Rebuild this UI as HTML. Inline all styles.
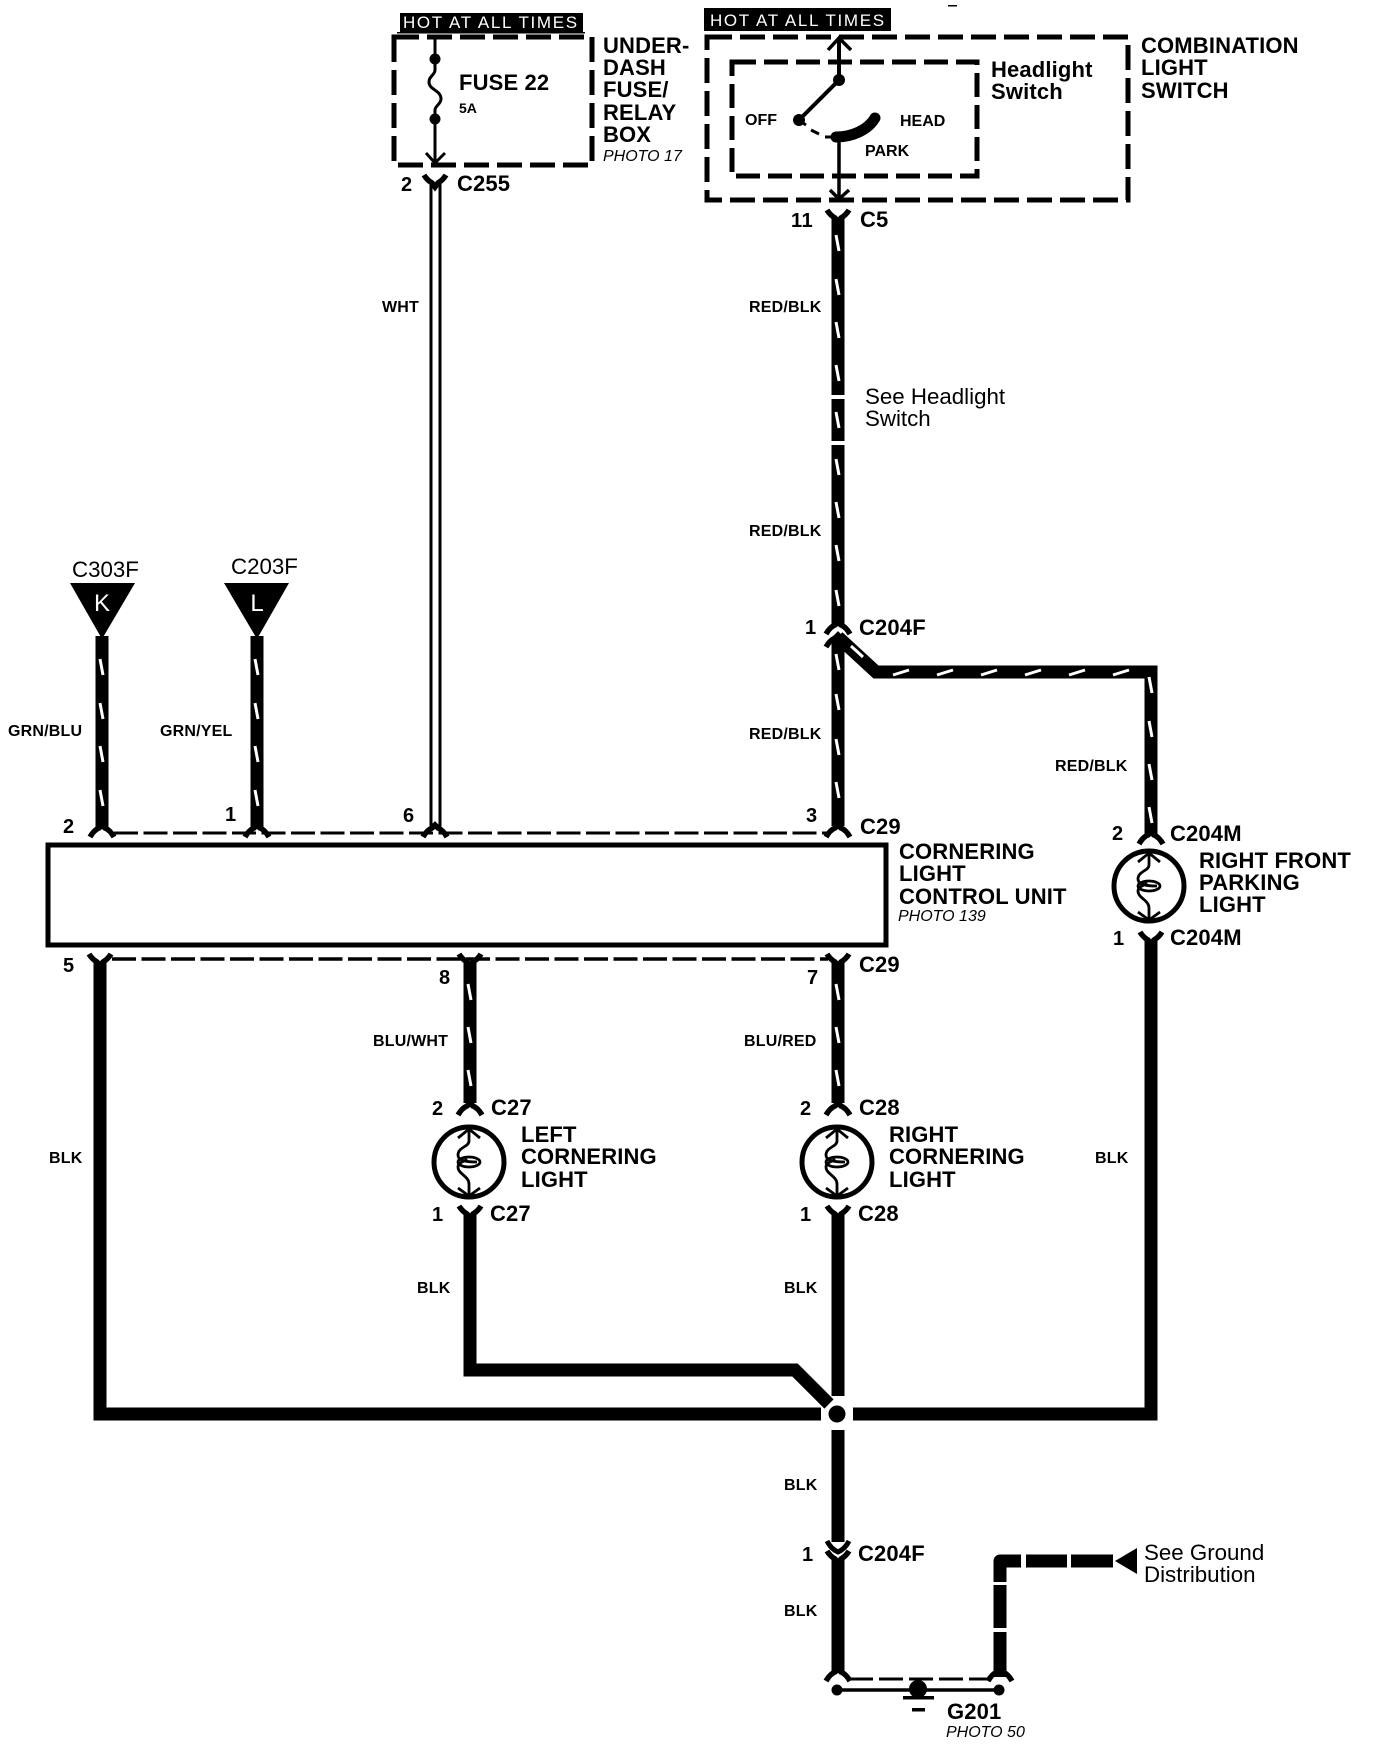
<!DOCTYPE html>
<html><head><meta charset="utf-8"><style>
html,body{margin:0;padding:0;background:#fff}
svg{display:block}
text{font-family:"Liberation Sans",sans-serif;fill:#000}
.b{font-weight:bold;font-size:22px;letter-spacing:.15px}
.n{font-weight:bold;font-size:20px;letter-spacing:.5px}
.w{font-weight:bold;font-size:16px;letter-spacing:.2px}
.p{font-style:italic;font-size:16px}
.r{font-size:22.3px}
.h{fill:#fff;font-size:17px;letter-spacing:1.65px}
.l{fill:none;stroke:#000}
.s{fill:none;stroke:#fff;stroke-width:3}
</style></head><body>
<svg width="1376" height="1744" viewBox="0 0 1376 1744" xmlns="http://www.w3.org/2000/svg">
<defs>
<path id="y" d="M-11,-8 Q-8,-3 -3,0 L0,4 L3,0 Q8,-3 11,-8" fill="none" stroke="#000" stroke-width="5.5"/>
<path id="a" d="M-12,6 Q-8,-1 -3,-3 L0,-6 L3,-3 Q8,-1 12,6" fill="none" stroke="#000" stroke-width="5.5"/>
<g id="bulb">
<circle r="35" fill="#fff" stroke="#000" stroke-width="5"/>
<path d="M-11,-24 L0,-33 L11,-24 M-11,26 L0,34 L11,26 M0,-33 V-21 C0,-15 -11,-15 -11,-7 C-11,-2 -5,0 8,0 M0,34 V22 C0,14 -11,12 -11,5 C-11,0 -5,0 -2,-3" fill="none" stroke="#000" stroke-width="2.8"/>
<ellipse cx="0" cy="0" rx="11" ry="5" fill="none" stroke="#000" stroke-width="2.8"/>
</g>
</defs>

<rect x="948" y="5" width="9" height="1.5" fill="#000"/>

<rect x="400" y="13" width="183" height="19" fill="#000"/>
<rect x="397" y="32" width="188" height="1.5" fill="#000"/>
<text class="h" x="403" y="28">HOT AT ALL TIMES</text>
<rect x="704" y="8" width="187" height="23" fill="#000"/>
<text class="h" x="710" y="26">HOT AT ALL TIMES</text>

<rect x="394" y="37" width="198" height="128" class="l" stroke-width="5" stroke-dasharray="25 8"/>
<rect x="707" y="37" width="421" height="163" class="l" stroke-width="5" stroke-dasharray="25 8"/>
<rect x="732" y="62" width="245" height="114" class="l" stroke-width="5" stroke-dasharray="24 8"/>

<path d="M435,37 V70 C435,75 429,76 429,82 C429,90 441,90 441,99 C441,104 435,106 435,110 V162" class="l" stroke-width="3"/>
<circle cx="435" cy="59" r="5.5"/><circle cx="435" cy="119" r="5.5"/>
<path d="M426,153 L435,163 L445,153" class="l" stroke-width="3"/>
<use href="#y" x="435" y="183"/>
<line x1="431" y1="184" x2="431" y2="828" class="l" stroke-width="3"/>
<line x1="440" y1="184" x2="440" y2="828" class="l" stroke-width="3"/>

<path d="M839,38 V80 L799,120" class="l" stroke-width="4"/>
<circle cx="839" cy="80" r="6"/><circle cx="799" cy="120" r="6"/>
<path d="M828,50 L839,38 L851,50 M830,190 L839,199 L849,190" class="l" stroke-width="3.5"/>
<path d="M803,123 L806,125 M811,130 L819,134 M825,137 L834,137" class="l" stroke-width="3"/>
<path d="M836,137 C852,137 868,130 875,118" class="l" stroke-width="11" stroke-linecap="round"/>
<line x1="839" y1="137" x2="839" y2="198" class="l" stroke-width="3.5"/>

<use href="#y" x="838" y="218"/>
<path d="M838,218 V395 M838,399 V441 M838,445 V624" class="l" stroke-width="13"/>
<path class="s" d="M836,235l3,16M836,279l3,16M836,322l3,16M836,365l3,16M836,412l3,16M836,459l3,16M836,502l3,16M836,545l3,16M836,590l3,16"/>
<use href="#a" x="838" y="628"/>
<use href="#a" x="838" y="641"/>
<path d="M838,640 V826" class="l" stroke-width="13"/>
<path d="M838,637 L876,672 H1151 V826" class="l" stroke-width="13" stroke-linejoin="miter"/>
<path class="s" d="M836,654l3,16M836,694l3,16M836,739l3,16M836,782l3,16M851,646l12,11"/>
<path class="s" d="M893,675l16,-5M937,675l16,-5M981,675l16,-5M1025,675l16,-5M1069,675l16,-5M1113,675l16,-5M1149,677l3,16M1149,721l3,16M1149,764l3,16M1149,807l3,16"/>

<polygon points="70,583 135,583 102,639"/>
<polygon points="224,583 289,583 257,639"/>
<text x="102" y="611" font-size="24" text-anchor="middle" style="fill:#fff">K</text>
<text x="257" y="611" font-size="24" text-anchor="middle" style="fill:#fff">L</text>
<path d="M102,636 V828 M257,636 V828" class="l" stroke-width="13"/>
<path class="s" d="M100,659l3,16M100,703l3,16M100,746l3,16M100,790l3,16M255,659l3,16M255,703l3,16M255,746l3,16M255,790l3,16"/>
<use href="#a" x="102" y="831"/><use href="#a" x="257" y="831"/><use href="#a" x="435" y="831"/><use href="#a" x="838" y="831"/>
<line x1="114" y1="833" x2="828" y2="833" class="l" stroke-width="3" stroke-dasharray="24 5.5"/>

<rect x="48" y="845" width="838" height="100" fill="#fff" stroke="#000" stroke-width="5"/>

<line x1="112" y1="959" x2="828" y2="959" class="l" stroke-width="3.5" stroke-dasharray="24 5.5"/>
<use href="#y" x="100" y="962"/><use href="#y" x="470" y="962"/><use href="#y" x="838" y="962"/>
<path d="M470,962 V1103 M838,962 V1103" class="l" stroke-width="13"/>
<path class="s" d="M468,984l3,16M468,1027l3,16M468,1070l3,16M836,984l3,16M836,1027l3,16M836,1070l3,16"/>
<use href="#a" x="470" y="1109"/><use href="#a" x="838" y="1109"/>
<use href="#a" x="1151" y="838"/>
<path d="M1151,826 V834" class="l" stroke-width="13"/>

<use href="#bulb" x="469" y="1162"/>
<use href="#bulb" x="837" y="1162"/>
<use href="#bulb" x="1149" y="886"/>
<use href="#y" x="470" y="1214"/><use href="#y" x="838" y="1214"/><use href="#y" x="1151" y="940"/>

<path d="M1151,940 V1414 H853" class="l" stroke-width="13"/>
<path d="M100,962 V1414 H821" class="l" stroke-width="13"/>
<path d="M470,1214 V1370 H795 L829,1404" class="l" stroke-width="13"/>
<path d="M838,1214 V1396" class="l" stroke-width="13"/>
<circle cx="837" cy="1414" r="8.5"/>
<path d="M838,1430 V1542" class="l" stroke-width="13"/>
<path d="M827,1541 Q831,1549 838,1552 Q845,1549 849,1541" class="l" stroke-width="5"/>
<use href="#y" x="838" y="1559"/>
<path d="M838,1560 V1672" class="l" stroke-width="13"/>
<use href="#a" x="838" y="1675"/><use href="#a" x="1000" y="1675"/>
<line x1="849" y1="1679" x2="990" y2="1679" class="l" stroke-width="3" stroke-dasharray="24 6"/>

<line x1="837" y1="1690" x2="999" y2="1690" class="l" stroke-width="3.5"/>
<circle cx="837" cy="1690" r="5.5"/><circle cx="999" cy="1690" r="5.5"/>
<circle cx="918" cy="1689" r="9"/>
<rect x="903" y="1696" width="31" height="3.5"/><rect x="912" y="1708" width="13" height="3.5"/>

<path d="M1000,1677 V1632 M1000,1628 V1585 M1000,1582 V1561 H1021 M1026,1561 H1067 M1071,1561 H1113" class="l" stroke-width="13" stroke-linejoin="round"/>
<polygon points="1115,1561 1137,1548 1137,1574"/>

<text class="b" x="603" y="53">UNDER-</text>
<text class="b" x="603" y="75">DASH</text>
<text class="b" x="603" y="97">FUSE/</text>
<text class="b" x="603" y="120">RELAY</text>
<text class="b" x="603" y="142">BOX</text>
<text class="p" x="603" y="161">PHOTO 17</text>
<text class="b" x="459" y="90">FUSE 22</text>
<text x="459" y="113" font-size="14" font-weight="bold">5A</text>
<text class="n" x="401" y="191">2</text>
<text class="b" x="457" y="191">C255</text>

<text class="b" x="1141" y="53">COMBINATION</text>
<text class="b" x="1141" y="75">LIGHT</text>
<text class="b" x="1141" y="98">SWITCH</text>
<text class="b" x="991" y="77">Headlight</text>
<text class="b" x="991" y="99">Switch</text>
<text x="745" y="125" font-size="16" font-weight="bold">OFF</text>
<text x="900" y="126" font-size="16" font-weight="bold">HEAD</text>
<text x="865" y="156" font-size="16" font-weight="bold">PARK</text>
<text class="n" x="791" y="227">11</text>
<text class="b" x="860" y="227">C5</text>

<text class="w" x="382" y="312">WHT</text>
<text class="w" x="749" y="312">RED/BLK</text>
<text class="w" x="749" y="536">RED/BLK</text>
<text class="w" x="749" y="739">RED/BLK</text>
<text class="w" x="1055" y="771">RED/BLK</text>
<text class="r" x="865" y="404">See Headlight</text>
<text class="r" x="865" y="426">Switch</text>

<text class="r" x="72" y="577">C303F</text>
<text class="r" x="231" y="574">C203F</text>
<text class="w" x="8" y="736">GRN/BLU</text>
<text class="w" x="160" y="736">GRN/YEL</text>
<text class="n" x="63" y="833">2</text>
<text class="n" x="225" y="821">1</text>
<text class="n" x="403" y="822">6</text>
<text class="n" x="806" y="822">3</text>
<text class="n" x="805" y="634">1</text>
<text class="b" x="859" y="635">C204F</text>
<text class="b" x="860" y="834">C29</text>

<text class="b" x="899" y="859">CORNERING</text>
<text class="b" x="899" y="881">LIGHT</text>
<text class="b" x="899" y="904">CONTROL UNIT</text>
<text class="p" x="898" y="921">PHOTO 139</text>

<text class="n" x="1112" y="840">2</text>
<text class="b" x="1170" y="841">C204M</text>
<text class="b" x="1199" y="868">RIGHT FRONT</text>
<text class="b" x="1199" y="890">PARKING</text>
<text class="b" x="1199" y="912">LIGHT</text>
<text class="n" x="1113" y="945">1</text>
<text class="b" x="1170" y="945">C204M</text>

<text class="n" x="63" y="972">5</text>
<text class="n" x="439" y="984">8</text>
<text class="n" x="807" y="984">7</text>
<text class="b" x="859" y="972">C29</text>
<text class="w" x="373" y="1046">BLU/WHT</text>
<text class="w" x="744" y="1046">BLU/RED</text>
<text class="w" x="49" y="1163">BLK</text>
<text class="w" x="1095" y="1163">BLK</text>
<text class="n" x="432" y="1115">2</text>
<text class="b" x="491" y="1115">C27</text>
<text class="n" x="432" y="1221">1</text>
<text class="b" x="490" y="1221">C27</text>
<text class="n" x="800" y="1115">2</text>
<text class="b" x="859" y="1115">C28</text>
<text class="n" x="800" y="1221">1</text>
<text class="b" x="858" y="1221">C28</text>
<text class="b" x="521" y="1142">LEFT</text>
<text class="b" x="521" y="1164">CORNERING</text>
<text class="b" x="521" y="1187">LIGHT</text>
<text class="b" x="889" y="1142">RIGHT</text>
<text class="b" x="889" y="1164">CORNERING</text>
<text class="b" x="889" y="1187">LIGHT</text>
<text class="w" x="417" y="1293">BLK</text>
<text class="w" x="784" y="1293">BLK</text>
<text class="w" x="784" y="1490">BLK</text>
<text class="w" x="784" y="1616">BLK</text>
<text class="n" x="802" y="1561">1</text>
<text class="b" x="858" y="1561">C204F</text>
<text class="r" x="1144" y="1560">See Ground</text>
<text class="r" x="1144" y="1582">Distribution</text>
<text class="b" x="947" y="1719">G201</text>
<text class="p" x="946" y="1737">PHOTO 50</text>
</svg>
</body></html>
